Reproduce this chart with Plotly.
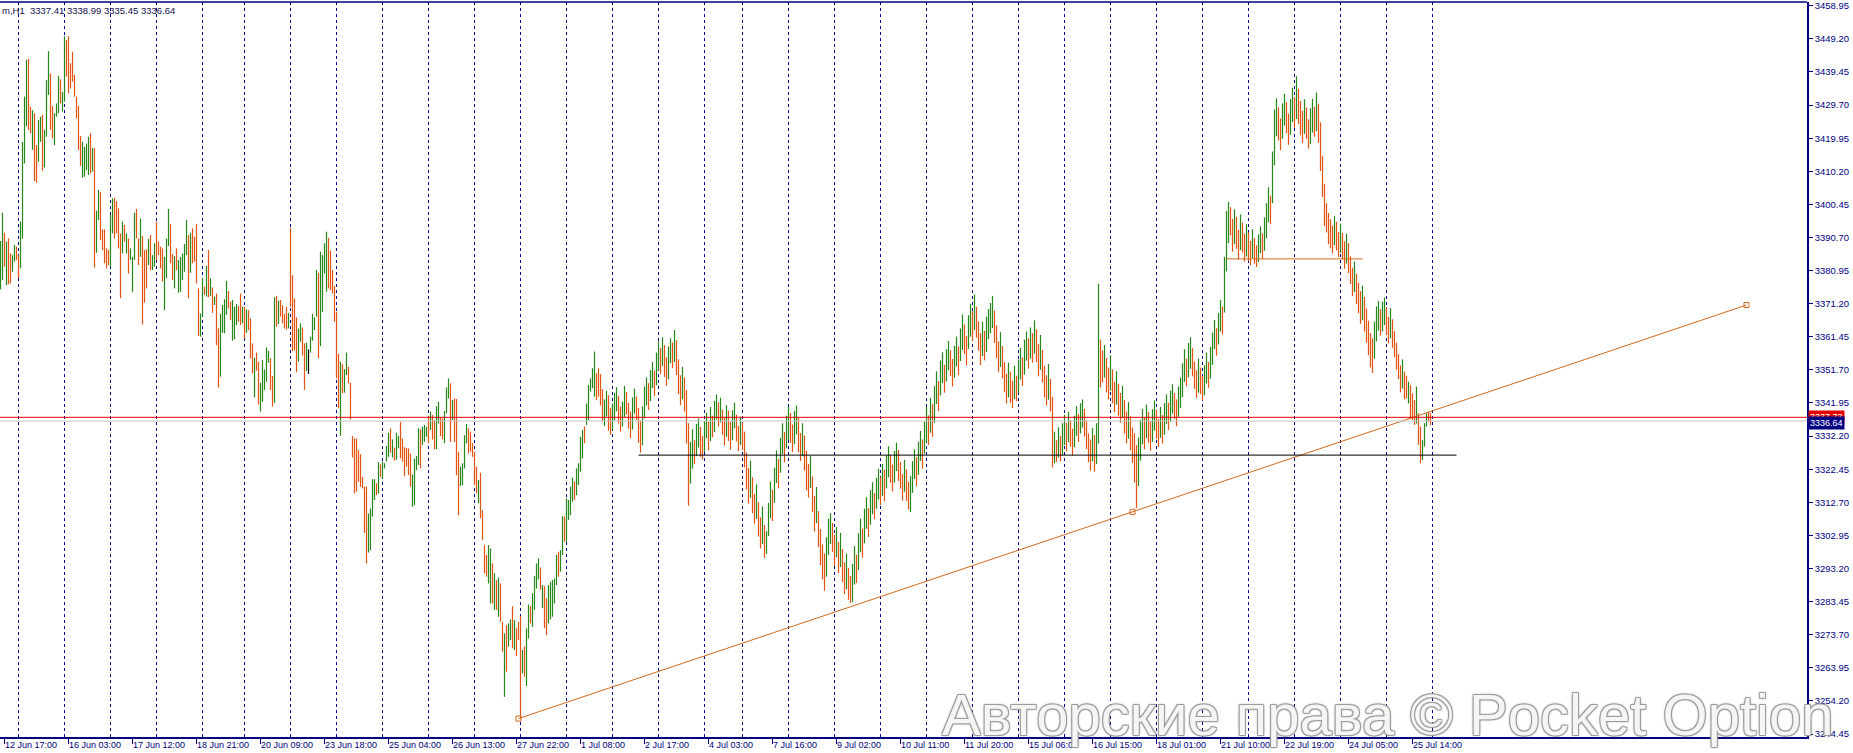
import plotly.graph_objects as go

# ---------------- data ----------------
symbol_header = "m,H1  3337.41 3338.99 3335.45 3336.64"

# bars per trading day (first = 12 Jun partial, last = 28 Jul first slot)
day_bars = [9, 23, 23, 23, 23, 21, 23, 23, 23, 23, 23, 23, 23, 23, 23, 23,
            19, 23, 23, 23, 23, 23, 23, 23, 23, 23, 23, 23, 23, 23, 23, 23, 1]

time_labels = ["12 Jun 17:00", "16 Jun 03:00", "17 Jun 12:00", "18 Jun 21:00",
               "20 Jun 09:00", "23 Jun 18:00", "25 Jun 04:00", "26 Jun 13:00",
               "27 Jun 22:00", "1 Jul 08:00", "2 Jul 17:00", "4 Jul 03:00",
               "7 Jul 16:00", "9 Jul 02:00", "10 Jul 11:00", "11 Jul 20:00",
               "15 Jul 06:00", "16 Jul 15:00", "18 Jul 01:00", "21 Jul 10:00",
               "22 Jul 19:00", "24 Jul 05:00", "25 Jul 14:00"]
time_label_bars = [2, 34, 66, 98, 130, 162, 194, 226, 258, 290, 322, 354, 386,
                   418, 450, 482, 514, 546, 578, 610, 642, 674, 706]

price_ticks = [3458.95, 3449.20, 3439.45, 3429.70, 3419.95, 3410.20, 3400.45,
               3390.70, 3380.95, 3371.20, 3361.45, 3351.70, 3341.95, 3332.20,
               3322.45, 3312.70, 3302.95, 3293.20, 3283.45, 3273.70, 3263.95,
               3254.20, 3244.45]

bar_high = [
    # 0-74
    3389.7, 3398.0, 3392.1, 3389.5, 3390.4, 3386.0, 3385.5, 3388.5, 3388.0, 3385.5,
    3395.4, 3418.9, 3432.2, 3443.0, 3443.3, 3429.2, 3428.2, 3427.3, 3417.9, 3425.3,
    3426.3, 3426.8, 3422.4, 3437.1, 3445.6, 3439.0, 3429.4, 3427.3, 3430.2, 3438.3,
    3437.3, 3433.6, 3450.0, 3448.9, 3450.0, 3442.0, 3445.4, 3438.6, 3432.2, 3429.4,
    3420.6, 3418.9, 3417.4, 3418.4, 3420.4, 3421.4, 3417.0, 3417.0, 3398.6, 3404.7,
    3404.1, 3393.1, 3393.1, 3387.5, 3387.0, 3397.3, 3402.2, 3402.4, 3401.4, 3399.3,
    3391.9, 3395.4, 3394.4, 3391.9, 3390.4, 3387.5, 3385.0, 3398.0, 3399.1, 3390.4,
    3396.3, 3391.1, 3387.0, 3387.2, 3390.3,
    # 75-149
    3391.4, 3385.5, 3389.0, 3395.4, 3389.5, 3388.0, 3387.5, 3385.0, 3390.4, 3399.1,
    3394.7, 3385.8, 3385.2, 3387.5, 3384.1, 3385.0, 3386.0, 3388.8, 3395.8, 3391.4,
    3392.1, 3393.4, 3390.9, 3394.7, 3375.7, 3368.3, 3378.7, 3376.2, 3382.3, 3387.0,
    3378.7, 3376.0, 3373.3, 3374.2, 3363.9, 3368.2, 3370.8, 3372.5, 3377.9, 3374.9,
    3371.8, 3372.3, 3370.3, 3371.1, 3370.5, 3374.2, 3370.3, 3370.3, 3369.5, 3369.3,
    3366.9, 3359.5, 3355.3, 3356.8, 3354.1, 3347.9, 3354.6, 3351.8, 3358.3, 3357.3,
    3355.1, 3349.9, 3373.1, 3373.5, 3372.1, 3372.3, 3370.8, 3368.2, 3370.3, 3368.5,
    3393.6, 3379.6, 3372.8, 3367.2, 3363.9,
    # 150-224
    3365.4, 3364.2, 3359.5, 3359.7, 3357.7, 3361.5, 3368.2, 3367.2, 3381.1, 3380.3,
    3386.5, 3385.5, 3389.0, 3392.4, 3390.6, 3386.8, 3381.1, 3376.4, 3368.8, 3356.4,
    3354.1, 3353.4, 3351.9, 3356.8, 3352.6, 3347.9, 3332.2, 3331.5, 3331.5, 3328.1,
    3326.9, 3320.2, 3317.3, 3317.3, 3309.4, 3310.9, 3319.5, 3319.5, 3318.3, 3324.5,
    3323.9, 3324.7, 3324.2, 3329.3, 3333.2, 3334.5, 3331.2, 3328.8, 3333.2, 3332.2,
    3336.4, 3331.5, 3328.9, 3328.7, 3328.6, 3327.1, 3320.9, 3325.6, 3326.3, 3334.5,
    3334.2, 3335.0, 3335.5, 3335.0, 3337.9, 3339.4, 3338.4, 3336.9, 3341.0, 3342.3,
    3337.7, 3337.4, 3339.6, 3346.5, 3349.2,
    # 225-299
    3347.7, 3342.8, 3343.3, 3343.1, 3327.6, 3323.2, 3324.2, 3332.5, 3335.8, 3334.5,
    3333.5, 3330.1, 3327.6, 3323.2, 3319.3, 3321.4, 3310.4, 3300.1, 3297.2, 3300.1,
    3299.1, 3294.7, 3291.8, 3289.8, 3290.5, 3288.8, 3277.5, 3274.1, 3276.5, 3277.0,
    3278.2, 3282.1, 3278.0, 3275.6, 3277.5, 3279.2, 3269.2, 3270.2, 3275.6, 3282.6,
    3282.1, 3285.9, 3291.0, 3294.7, 3296.2, 3293.5, 3288.3, 3288.0, 3284.4, 3288.3,
    3289.3, 3289.8, 3290.3, 3297.2, 3298.1, 3298.6, 3308.6, 3308.5, 3313.9, 3313.4,
    3317.3, 3320.0, 3318.8, 3322.7, 3324.2, 3332.0, 3334.0, 3335.0, 3341.8, 3347.3,
    3349.2, 3352.2, 3357.1, 3350.7, 3352.2,
    # 300-399
    3350.5, 3346.0, 3343.0, 3345.5, 3344.2, 3340.5, 3341.8, 3345.0, 3346.6, 3344.1,
    3340.9, 3342.3, 3347.0, 3345.2, 3342.0, 3339.4, 3343.6, 3346.2, 3343.9, 3340.5,
    3336.8, 3341.0, 3346.8, 3349.5, 3347.8, 3351.6, 3354.0, 3351.5, 3356.8, 3360.1,
    3358.2, 3361.3, 3359.0, 3355.4, 3358.6, 3361.0, 3359.8, 3363.4, 3360.5, 3354.8,
    3350.1, 3352.6, 3349.5, 3345.8, 3336.0, 3330.5, 3334.2, 3331.0, 3335.8, 3337.4,
    3334.9, 3332.2, 3336.7, 3339.1, 3336.5, 3340.8, 3338.2, 3342.6, 3344.5, 3342.1,
    3343.5, 3340.0, 3337.6, 3341.3, 3339.7, 3336.4, 3339.8, 3342.0, 3338.5, 3335.2,
    3337.9, 3336.2, 3333.5, 3327.4, 3322.8, 3325.0, 3320.1, 3315.2, 3318.0, 3312.7,
    3308.3, 3311.5, 3306.0, 3304.2, 3312.5, 3318.8, 3316.4, 3322.9, 3328.0, 3325.5,
    3331.7, 3336.0, 3333.4, 3338.2, 3340.9, 3339.0, 3335.6, 3339.6, 3341.2, 3337.5,
    # 400-499
    3333.1, 3336.0, 3332.4, 3327.8, 3324.0, 3326.5, 3320.3, 3314.6, 3317.2, 3310.1,
    3304.8, 3300.3, 3297.6, 3302.4, 3307.9, 3309.5, 3306.6, 3303.2, 3305.4, 3301.0,
    3303.7, 3298.9, 3295.0, 3297.6, 3293.3, 3291.0, 3294.5, 3299.8, 3297.2, 3303.6,
    3307.9, 3305.0, 3310.8, 3314.2, 3311.0, 3316.3, 3318.6, 3315.4, 3319.9, 3322.6,
    3320.1, 3324.0, 3322.3, 3326.5, 3329.2, 3326.7, 3323.8, 3327.9, 3330.3, 3328.1,
    3324.6, 3321.0, 3325.2, 3322.4, 3318.7, 3320.5, 3324.8, 3328.3, 3326.0, 3330.6,
    3333.7, 3331.2, 3336.5, 3340.8, 3338.3, 3343.5, 3341.6, 3346.9, 3351.3, 3348.4,
    3354.5, 3356.9, 3353.2, 3357.8, 3360.2, 3357.5, 3354.9, 3358.8, 3361.5, 3358.6,
    3363.9, 3368.0, 3365.1, 3361.7, 3367.8, 3371.2, 3369.0, 3373.9, 3370.3, 3366.0,
    3362.5, 3365.9, 3363.2, 3367.4, 3369.6, 3371.4, 3373.5, 3369.2, 3364.8, 3360.1,
    # 500-599
    3362.8, 3358.7, 3354.0, 3350.6, 3353.8, 3351.2, 3348.5, 3352.9, 3350.0, 3354.7,
    3358.2, 3355.4, 3360.6, 3363.0, 3361.0, 3364.2, 3362.5, 3366.3, 3363.7, 3359.4,
    3362.0, 3357.6, 3352.9, 3350.1, 3353.4, 3349.0, 3343.8, 3333.5, 3331.0, 3334.8,
    3332.2, 3336.0, 3338.5, 3336.1, 3339.3, 3337.0, 3334.4, 3338.2, 3341.0, 3338.7,
    3341.9, 3343.0, 3340.2, 3336.8, 3333.0, 3331.2, 3334.6, 3332.5, 3336.0, 3377.0,
    3360.6, 3357.4, 3359.0, 3355.2, 3352.4, 3356.0, 3351.8, 3348.2, 3351.3, 3347.6,
    3344.9, 3347.0, 3342.8, 3339.4, 3342.2, 3338.0, 3334.7, 3333.0, 3329.5, 3331.8,
    3337.0, 3340.2, 3337.8, 3341.5, 3339.3, 3336.6, 3340.1, 3342.7, 3339.9, 3337.2,
    3340.8, 3338.4, 3341.9, 3344.5, 3342.0, 3345.6, 3347.5, 3344.9, 3343.0, 3346.8,
    3349.4, 3353.6, 3357.8, 3355.0, 3359.6, 3361.3, 3358.1, 3354.2, 3351.6, 3355.0,
    # 600-699
    3352.4, 3349.9, 3353.1, 3356.8, 3354.0, 3358.5, 3362.7, 3366.4, 3364.0, 3368.5,
    3372.3, 3370.4, 3385.0, 3398.5, 3401.2, 3399.6, 3396.2, 3399.0, 3396.8, 3393.0,
    3397.5, 3395.1, 3391.8, 3394.6, 3392.2, 3389.7, 3393.1, 3390.5, 3388.4, 3391.6,
    3394.0, 3391.9, 3396.6, 3400.8, 3405.5, 3403.0, 3416.0, 3428.4, 3431.7, 3429.0,
    3425.8, 3430.2, 3433.0, 3430.6, 3427.2, 3431.5, 3434.8, 3432.0, 3438.2, 3434.5,
    3430.9, 3428.0, 3431.4, 3429.0, 3425.5, 3428.8, 3431.5, 3429.2, 3433.4, 3430.0,
    3424.6, 3414.8, 3406.5, 3400.8, 3397.9, 3396.1, 3394.2, 3397.0, 3395.3, 3392.4,
    3394.8, 3392.0, 3389.6, 3391.8, 3389.0, 3385.1, 3381.8, 3383.6, 3380.0, 3377.3,
    3374.9, 3376.5, 3373.2, 3369.8, 3366.2, 3362.5, 3361.0, 3365.9, 3370.4, 3372.0,
    3369.6, 3371.8, 3373.0, 3370.2, 3367.3, 3369.9, 3366.6, 3363.1, 3359.7, 3356.4,
    # 700-715
    3353.0, 3354.8, 3351.2, 3350.0, 3348.2, 3347.2, 3344.8, 3342.8, 3346.8, 3338.9,
    3335.0, 3331.0, 3336.0, 3338.9, 3339.4, 3338.99,
]

bar_low = [
    # 0-74
    3375.4, 3378.2, 3382.1, 3376.7, 3376.9, 3377.2, 3380.6, 3383.6, 3384.1, 3378.7,
    3381.6, 3390.4, 3412.5, 3423.5, 3422.4, 3421.4, 3416.5, 3407.3, 3406.8, 3413.0,
    3418.9, 3410.4, 3411.3, 3420.4, 3432.7, 3422.4, 3419.9, 3417.9, 3426.3, 3427.3,
    3430.2, 3427.8, 3430.7, 3438.1, 3433.2, 3434.6, 3436.6, 3432.2, 3425.8, 3416.5,
    3411.8, 3408.3, 3408.6, 3410.6, 3409.1, 3409.6, 3410.1, 3381.8, 3386.2, 3395.9,
    3390.0, 3387.0, 3383.1, 3381.6, 3382.6, 3382.1, 3391.9, 3390.4, 3391.9, 3387.5,
    3372.8, 3386.0, 3389.5, 3386.0, 3380.1, 3384.1, 3374.7, 3384.1, 3390.4, 3382.6,
    3385.0, 3365.1, 3371.5, 3375.7, 3382.6,
    # 75-149
    3381.1, 3381.1, 3382.1, 3384.1, 3385.5, 3381.6, 3377.7, 3369.3, 3378.7, 3388.2,
    3383.1, 3378.2, 3375.7, 3381.1, 3374.4, 3374.7, 3378.2, 3380.6, 3385.5, 3372.8,
    3380.3, 3383.1, 3383.6, 3377.2, 3361.7, 3361.5, 3367.4, 3373.8, 3373.3, 3373.1,
    3373.5, 3368.5, 3370.8, 3359.0, 3346.5, 3349.7, 3362.6, 3362.5, 3367.9, 3369.8,
    3366.4, 3360.3, 3360.7, 3364.9, 3365.9, 3364.9, 3365.4, 3361.0, 3362.6, 3363.4,
    3355.1, 3350.7, 3343.6, 3351.5, 3341.5, 3339.4, 3342.3, 3345.8, 3348.2, 3353.8,
    3345.8, 3340.9, 3342.0, 3364.4, 3365.2, 3367.4, 3365.4, 3363.9, 3363.6, 3363.9,
    3370.3, 3357.2, 3357.5, 3351.0, 3354.1,
    # 150-224
    3360.0, 3355.9, 3345.8, 3351.4, 3350.5, 3356.8, 3360.3, 3363.4, 3367.4, 3355.1,
    3358.7, 3368.8, 3380.1, 3374.7, 3375.7, 3375.2, 3374.2, 3365.9, 3349.2, 3340.4,
    3332.3, 3344.8, 3345.0, 3350.2, 3347.7, 3337.1, 3325.9, 3315.3, 3315.8, 3318.8,
    3317.3, 3316.8, 3303.7, 3294.7, 3297.9, 3298.6, 3308.5, 3313.4, 3314.8, 3315.3,
    3320.2, 3319.7, 3322.7, 3324.7, 3326.1, 3327.3, 3325.9, 3325.0, 3325.2, 3328.6,
    3325.6, 3324.7, 3320.4, 3323.2, 3320.7, 3317.3, 3311.4, 3311.9, 3322.2, 3323.7,
    3322.7, 3329.6, 3330.5, 3332.0, 3330.1, 3334.0, 3331.2, 3328.3, 3328.3, 3335.9,
    3332.2, 3331.2, 3330.1, 3338.9, 3343.3,
    # 225-299
    3330.5, 3336.9, 3330.5, 3320.7, 3308.9, 3317.5, 3317.8, 3322.7, 3330.1, 3327.1,
    3327.6, 3326.1, 3317.8, 3315.3, 3312.4, 3308.0, 3301.6, 3291.8, 3290.8, 3288.8,
    3282.9, 3282.9, 3281.0, 3281.0, 3279.0, 3277.5, 3268.7, 3255.4, 3262.8, 3270.2,
    3272.1, 3269.7, 3269.2, 3267.4, 3272.1, 3248.8, 3262.3, 3261.3, 3258.6, 3272.6,
    3277.0, 3276.0, 3281.0, 3287.3, 3290.0, 3287.0, 3281.5, 3275.6, 3273.6, 3277.0,
    3278.2, 3279.0, 3282.9, 3288.3, 3290.8, 3292.3, 3297.2, 3301.1, 3301.1, 3307.5,
    3308.9, 3312.9, 3313.4, 3314.8, 3317.8, 3321.7, 3325.6, 3330.1, 3335.5, 3336.9,
    3345.3, 3346.3, 3343.8, 3342.8, 3343.8,
    # 300-399
    3341.2, 3336.5, 3335.2, 3338.0, 3333.8, 3332.6, 3334.0, 3336.8, 3339.5, 3335.9,
    3333.5, 3335.0, 3337.8, 3338.6, 3334.4, 3331.6, 3334.1, 3338.8, 3337.0, 3330.2,
    3327.3, 3329.5, 3337.4, 3341.2, 3339.9, 3342.5, 3346.3, 3344.0, 3347.2, 3351.5,
    3350.4, 3352.8, 3349.6, 3347.0, 3348.9, 3353.7, 3352.2, 3354.0, 3350.2, 3344.5,
    3341.3, 3343.0, 3339.4, 3330.0, 3311.7, 3318.2, 3322.6, 3324.0, 3326.3, 3328.8,
    3326.1, 3325.3, 3327.4, 3331.6, 3328.0, 3330.7, 3331.9, 3333.4, 3337.1, 3335.0,
    3336.2, 3332.5, 3329.4, 3332.0, 3330.8, 3328.2, 3331.0, 3334.5, 3330.6, 3327.8,
    3329.6, 3328.1, 3323.0, 3316.5, 3312.3, 3314.0, 3309.5, 3306.4, 3307.8, 3302.6,
    3299.1, 3300.4, 3296.3, 3297.5, 3302.8, 3308.0, 3307.2, 3312.6, 3318.4, 3316.8,
    3321.4, 3326.9, 3324.5, 3328.6, 3331.0, 3330.2, 3327.5, 3329.8, 3332.7, 3327.4,
    # 400-499
    3324.9, 3326.3, 3322.0, 3316.2, 3314.1, 3316.9, 3309.8, 3304.1, 3306.6, 3299.5,
    3294.2, 3290.0, 3286.6, 3290.8, 3297.2, 3300.4, 3298.1, 3294.0, 3296.5, 3291.8,
    3293.6, 3289.2, 3285.7, 3287.1, 3284.0, 3283.0, 3283.4, 3288.5, 3288.9, 3292.7,
    3298.0, 3296.4, 3300.6, 3304.9, 3302.5, 3306.1, 3309.2, 3307.7, 3310.8, 3313.5,
    3311.9, 3314.6, 3313.0, 3316.8, 3320.0, 3318.4, 3315.9, 3318.5, 3321.9, 3319.0,
    3316.7, 3313.2, 3315.8, 3313.1, 3310.6, 3309.8, 3315.5, 3319.6, 3317.4, 3320.8,
    3324.9, 3322.6, 3327.0, 3330.4, 3329.6, 3333.2, 3332.0, 3336.1, 3341.7, 3339.6,
    3344.2, 3347.8, 3345.0, 3348.3, 3351.6, 3349.9, 3346.8, 3349.4, 3352.7, 3350.1,
    3354.3, 3357.6, 3356.4, 3353.0, 3357.9, 3361.5, 3360.2, 3363.4, 3361.2, 3357.4,
    3353.1, 3355.8, 3354.5, 3357.0, 3360.8, 3362.5, 3364.0, 3359.6, 3355.2, 3351.0,
    # 500-599
    3352.6, 3349.2, 3345.1, 3341.8, 3343.6, 3342.0, 3340.4, 3343.1, 3342.5, 3344.8,
    3348.9, 3347.0, 3350.3, 3354.4, 3352.1, 3355.0, 3353.8, 3356.5, 3354.0, 3349.8,
    3351.7, 3348.0, 3343.6, 3341.2, 3342.9, 3339.5, 3323.0, 3324.2, 3324.6, 3325.9,
    3324.8, 3326.7, 3329.6, 3327.7, 3330.4, 3329.1, 3326.5, 3328.9, 3332.3, 3330.5,
    3333.0, 3334.7, 3332.1, 3328.4, 3324.5, 3322.0, 3324.8, 3321.7, 3324.0, 3330.0,
    3346.5, 3348.0, 3349.4, 3345.1, 3343.0, 3345.6, 3341.9, 3339.3, 3341.5, 3338.2,
    3336.1, 3337.6, 3333.0, 3330.1, 3331.4, 3328.0, 3324.3, 3318.5, 3311.0, 3317.5,
    3325.0, 3329.8, 3328.3, 3331.6, 3330.2, 3327.9, 3330.5, 3333.8, 3331.4, 3329.0,
    3331.7, 3330.0, 3332.6, 3335.8, 3334.0, 3336.4, 3338.8, 3337.2, 3335.1, 3337.9,
    3340.5, 3343.7, 3348.2, 3346.9, 3349.5, 3352.0, 3349.8, 3346.1, 3343.4, 3345.0,
    # 600-699
    3344.6, 3342.8, 3344.2, 3347.7, 3346.4, 3349.1, 3353.2, 3357.8, 3355.9, 3359.2,
    3363.0, 3362.1, 3368.6, 3380.7, 3389.0, 3391.3, 3386.5, 3388.7, 3387.4, 3384.2,
    3387.0, 3386.3, 3383.6, 3385.1, 3383.8, 3382.5, 3384.6, 3383.0, 3382.0, 3383.5,
    3386.1, 3384.4, 3386.8, 3390.5, 3395.2, 3394.6, 3400.8, 3412.0, 3420.5, 3419.3,
    3416.4, 3419.8, 3423.6, 3421.4, 3418.0, 3421.0, 3424.7, 3423.0, 3425.6, 3424.1,
    3420.8, 3418.5, 3421.2, 3419.8, 3416.9, 3418.2, 3421.6, 3420.4, 3422.0, 3418.6,
    3410.3, 3402.6, 3394.0, 3392.2, 3388.7, 3387.5, 3386.0, 3388.4, 3386.9, 3385.0,
    3386.2, 3384.3, 3381.5, 3383.0, 3380.2, 3377.0, 3373.4, 3374.6, 3371.1, 3368.4,
    3365.2, 3366.3, 3363.0, 3359.7, 3356.0, 3352.4, 3350.8, 3355.0, 3360.1, 3363.3,
    3361.8, 3363.0, 3364.9, 3362.0, 3359.6, 3361.0, 3358.2, 3355.4, 3351.8, 3349.0,
    # 700-715
    3345.1, 3346.2, 3343.0, 3343.3, 3341.8, 3337.4, 3336.9, 3335.5, 3335.9, 3329.6,
    3324.2, 3325.2, 3329.1, 3335.0, 3336.4, 3335.45,
]

# u = up bar (green), d = down bar (orange), n = unchanged (black)
bar_dir = (
    # 0-299
    "uududduudd" "uuuudduddu" "uduuudduuu" "duuddddddd" "duuuududuu"
    "ddddduuddd" "dududuuudd" "udddu"
    "duudddduuu" "dduduuuuud" "udddduudud" "ududduuuud" "duuuddudud"
    "ddudduuuuu" "ddududdddu" "ddddu"
    "uddunuuuud" "uuuudddddd" "uduudddddd" "dddduuuudu" "duuuududuu"
    "dddddduuuu" "duuududduu" "dduuu"
    "duddduuuud" "dddduddddu" "udududdudu" "ududdduduu" "duuuududdu"
    "uuuuduuduu" "uuduuuuduu" "uuudd"
    # 300-399
    "dduud" "duuud" "duudd" "duudd" "duuud" "uuduu" "duddu" "ududd" "duddd" "uuduu"
    "dduud" "uduud" "uddud" "duudd" "udddd" "uddud" "duduu" "uduud" "uuduu" "dduud"
    # 400-499
    "duddd" "uddud" "ddduu" "uddud" "uddud" "duudu" "uduud" "uuduu" "duduu" "dduud"
    "ddudd" "uuudu" "uduud" "uduud" "uuduu" "dduud" "uuddu" "ududd" "duduu" "uuddd"
    # 500-599
    "udddu" "ddudu" "uduud" "ududd" "udddu" "ddudu" "duudu" "dduud" "uuddd" "duduu"
    "ddudd" "uddud" "duddu" "ddddu" "uudud" "duudd" "uduud" "uuddu" "uuudu" "udddu"
    # 600-699
    "dduud" "uuudu" "uduuu" "ddudd" "uddud" "duddu" "uduuu" "duuud" "duudd" "uudud"
    "ddudd" "uudud" "ddddd" "ddudd" "uddud" "ddudd" "duddd" "dduuu" "duudd" "udddd"
    # 700-715
    "duddu" "dddud" "duuud" "d"
)

bid_price = 3336.64
ask_price = 3337.73
support_level = 3326.6
support_from, support_to = 319, 728
resist_level = 3384.4
resist_from, resist_to = 613, 681
trend_x = [259, 566, 873]
trend_y = [3249.0, 3309.9, 3370.8]

# ---------------- styling ----------------
NAVY = "#000080"
GREEN = "#24871a"
ORANGE = "#e2540f"
TREND = "#d2691e"
FONT = "Liberation Sans"
colors = {"u": GREEN, "d": ORANGE, "n": "#000000"}

fig = go.Figure()

for key, col in colors.items():
    xs, ys = [], []
    for i, (h, l, d) in enumerate(zip(bar_high, bar_low, bar_dir)):
        if d == key:
            xs += [i, i, None]
            ys += [l, h, None]
    fig.add_trace(go.Scatter(x=xs, y=ys, mode="lines",
                             line=dict(color=col, width=1.2),
                             hoverinfo="skip", showlegend=False))

# trend line + anchor squares
fig.add_trace(go.Scatter(x=[trend_x[0], trend_x[-1]], y=[trend_y[0], trend_y[-1]],
                         mode="lines", line=dict(color=TREND, width=1),
                         hoverinfo="skip", showlegend=False))
fig.add_trace(go.Scatter(x=trend_x, y=trend_y, mode="markers",
                         marker=dict(symbol="square-open", size=5,
                                     color=TREND, line=dict(width=1, color=TREND)),
                         hoverinfo="skip", showlegend=False))

shapes = []
# day separators
pos = 0
for n in day_bars[:-1]:
    pos += n
    shapes.append(dict(type="line", xref="x", yref="paper", x0=pos, x1=pos,
                       y0=0, y1=1, layer="below",
                       line=dict(color=NAVY, width=1, dash="3px,3px")))
# horizontal price lines
shapes.append(dict(type="line", xref="paper", yref="y", x0=0, x1=1,
                   y0=bid_price, y1=bid_price, line=dict(color="#c8c8c8", width=1)))
shapes.append(dict(type="line", xref="paper", yref="y", x0=0, x1=1,
                   y0=ask_price, y1=ask_price, line=dict(color="#e00000", width=1)))
shapes.append(dict(type="line", xref="x", yref="y", x0=support_from, x1=support_to,
                   y0=support_level, y1=support_level, line=dict(color="#000000", width=1)))
shapes.append(dict(type="line", xref="x", yref="y", x0=resist_from, x1=resist_to,
                   y0=resist_level, y1=resist_level, line=dict(color=TREND, width=1)))
# top border
shapes.append(dict(type="line", xref="paper", yref="paper", x0=0, x1=1, y0=1, y1=1,
                   line=dict(color=NAVY, width=1.5)))

annotations = []
for lbl, b in zip(time_labels, time_label_bars):
    annotations.append(dict(x=b, y=0, xref="x", yref="paper", text=lbl,
                            showarrow=False, xanchor="left", yanchor="top",
                            xshift=-2, yshift=-1,
                            font=dict(family=FONT, size=9, color=NAVY)))
annotations.append(dict(x=0, y=1, xref="paper", yref="paper", text=symbol_header,
                        showarrow=False, xanchor="left", yanchor="top", yshift=-1,
                        font=dict(family=FONT, size=9.5, color="#10104a")))
annotations.append(dict(x=1, y=ask_price, xref="paper", yref="y", text=f"{ask_price:.2f}",
                        showarrow=False, xanchor="left", xshift=1, bgcolor="#e00000",
                        borderpad=1, font=dict(family=FONT, size=9, color="white")))
annotations.append(dict(x=1, y=bid_price, xref="paper", yref="y", text=f"{bid_price:.2f}",
                        showarrow=False, xanchor="left", xshift=1, yshift=-2, bgcolor=NAVY,
                        borderpad=1, font=dict(family=FONT, size=9, color="white")))
annotations.append(dict(x=0.768, y=0.031, xref="paper", yref="paper",
                        text="Авторские права © Pocket Option", showarrow=False,
                        xanchor="center", yanchor="middle",
                        font=dict(family=FONT, size=58, color="rgba(255,255,255,0.9)",
                                  shadow="1px 1px 0 #9a9a9a, -1px -1px 0 #9a9a9a, "
                                         "1px -1px 0 #9a9a9a, -1px 1px 0 #9a9a9a, "
                                         "0 0 3px #707070")))

fig.update_layout(
    width=1853, height=753, autosize=False,
    margin=dict(l=0, r=46, t=2, b=16, pad=0),
    paper_bgcolor="white", plot_bgcolor="white",
    showlegend=False,
    shapes=shapes, annotations=annotations,
    xaxis=dict(range=[-0.25, 903.25], showgrid=False, zeroline=False,
               showline=True, linecolor=NAVY, linewidth=1.5,
               tickvals=time_label_bars, ticks="outside", ticklen=5,
               tickcolor=NAVY, showticklabels=False, fixedrange=True),
    yaxis=dict(range=[3243.57, 3460.06], side="right", showgrid=False,
               zeroline=False, showline=True, linecolor=NAVY, linewidth=1.5,
               tickvals=price_ticks, ticktext=[f"{v:.2f}" for v in price_ticks],
               ticks="outside", ticklen=4, tickcolor=NAVY,
               tickfont=dict(family=FONT, size=9.5, color=NAVY), fixedrange=True),
)

fig.write_html("out.html",
               config={"displayModeBar": False, "staticPlot": False},
               post_script="document.body.style.margin='0px';"
                           "document.body.style.overflow='hidden';")
